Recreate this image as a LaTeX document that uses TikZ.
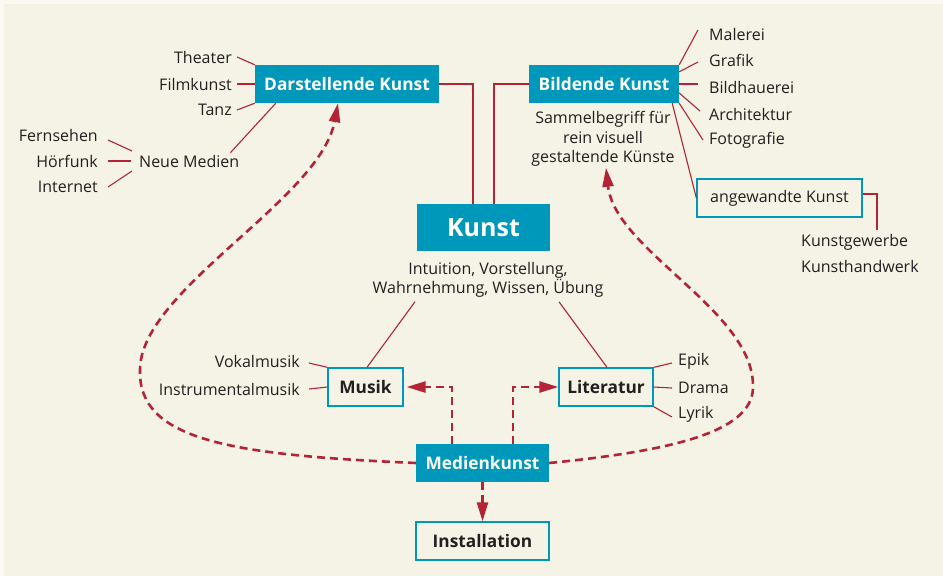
\documentclass[tikz,border=0pt]{standalone}
\usepackage{fontspec}
\setmainfont{Open Sans}
\usetikzlibrary{arrows.meta,calc}
\definecolor{teal}{RGB}{0,152,186}
\definecolor{rd}{RGB}{178,36,54}
\definecolor{bg}{RGB}{245,243,229}
\definecolor{bgo}{RGB}{251,249,242}
\definecolor{txt}{RGB}{35,31,32}
\tikzset{
  fbox/.style={fill=teal,text=white,font=\fontsize{17.3}{20}\selectfont\bfseries,inner sep=0pt,minimum height=38pt},
  obox/.style={draw=teal,line width=1.3pt,fill=bg,text=txt,font=\fontsize{17.3}{20}\selectfont\bfseries,inner sep=0pt,minimum height=38pt},
  lbl/.style={text=txt,font=\fontsize{16}{19.5}\selectfont,inner sep=0pt},
  ln/.style={draw=rd,line width=1.1pt},
  dsh/.style={draw=rd,line width=2.6pt,dash pattern=on 8pt off 5pt},
  arr/.style={-{Triangle[length=19pt,width=11pt]}}
}
\begin{document}
\begin{tikzpicture}[x=1pt,y=-1pt]
\useasboundingbox (0,0) rectangle (943,576);
\fill[bgo] (0,0) rectangle (943,576);
\fill[bg] (4,4) rectangle (943,576);
% boxes
\node[fbox,minimum width=184pt] (dk) at (347,84) {Darstellende Kunst};
\node[fbox,minimum width=150pt] (bk) at (604,84) {Bildende Kunst};
\node[fbox,minimum width=133pt,minimum height=47pt,font=\fontsize{25}{30}\selectfont\bfseries] (kunst) at (483.5,227.5) {Kunst};
\node[fbox,minimum width=133pt] (mk) at (482.5,463) {Medienkunst};
\node[obox,minimum width=133pt] (inst) at (482.5,541) {Installation};
\node[obox,minimum width=75pt] (musik) at (365.5,387) {Musik};
\node[obox,minimum width=94pt] (lit) at (606,387) {Literatur};
\node[obox,minimum width=165pt,font=\fontsize{16}{18}\selectfont] (ang) at (779.5,198) {angewandte Kunst};
% labels
\node[lbl,anchor=east] (theater) at (232,57) {Theater};
\node[lbl,anchor=east] (film) at (232,84) {Filmkunst};
\node[lbl,anchor=east] (tanz) at (232,110) {Tanz};
\node[lbl,anchor=west] (nm) at (139,161) {Neue Medien};
\node[lbl,anchor=east] (fern) at (98,135) {Fernsehen};
\node[lbl,anchor=east] (horf) at (98,161) {Hörfunk};
\node[lbl,anchor=east] (inet) at (98,187) {Internet};
\node[lbl,anchor=west] (malerei) at (709,34) {Malerei};
\node[lbl,anchor=west] (grafik) at (709,60) {Grafik};
\node[lbl,anchor=west] (bild) at (709,87) {Bildhauerei};
\node[lbl,anchor=west] (arch) at (709,114) {Architektur};
\node[lbl,anchor=west] (foto) at (709,140) {Fotografie};
\node[lbl,anchor=west] (kg) at (801,242) {Kunstgewerbe};
\node[lbl,anchor=west] (kh) at (801,266) {Kunsthandwerk};
\node[lbl,align=center,font=\fontsize{16}{19.5}\selectfont] (sammel) at (603,139) {Sammelbegriff für\\rein visuell\\gestaltende Künste};
\node[lbl,align=center,font=\fontsize{16}{18}\selectfont] (intu) at (488,280) {Intuition, Vorstellung,\\Wahrnehmung, Wissen, Übung};
\node[lbl,anchor=east] (vok) at (300,361) {Vokalmusik};
\node[lbl,anchor=east] (instr) at (300,389) {Instrumentalmusik};
\node[lbl,anchor=west] (epik) at (678,361) {Epik};
\node[lbl,anchor=west] (drama) at (678,388) {Drama};
\node[lbl,anchor=west] (lyrik) at (678,414) {Lyrik};
\coordinate (kgtop) at (877,230);
% thin connectors
\draw[ln] ([xshift=-10.5pt]kunst.north) |- (dk.east);
\draw[ln] ([xshift=10.5pt]kunst.north) |- (bk.west);
\draw[ln] ([xshift=5pt]theater.east) -- (dk.north west);
\draw[ln] ([xshift=5pt]film.east) -- (dk.west);
\draw[ln] ([xshift=5pt]tanz.east) -- (dk.south west);
\draw[ln] ([xshift=-9pt,yshift=2pt]nm.north east) -- ($(dk.south west)+(21,0)$);
\draw[ln] ([xshift=10pt,yshift=-5pt]fern.east) -- ([xshift=-7pt,yshift=10pt]nm.west);
\draw[ln] ([xshift=10pt]horf.east) -- ([xshift=-8pt]nm.west);
\draw[ln] ([xshift=10pt]inet.east) -- ([xshift=-7pt,yshift=-10pt]nm.west);
\draw[ln] (bk.north east) -- ([xshift=-11pt,yshift=4pt]malerei.west);
\draw[ln] ([yshift=-7pt]bk.north east) -- ([xshift=-11pt,yshift=-2pt]grafik.west);
\draw[ln] (bk.east) -- ([xshift=-11pt,yshift=3pt]bild.west);
\draw[ln] ([yshift=-9pt]bk.east) -- ([xshift=-9pt,yshift=3pt]arch.west);
\draw[ln] (bk.south east) -- ([xshift=-6pt]foto.west);
\draw[ln] ([xshift=-7pt]bk.south east) -- (ang.west);
\draw[ln] ([yshift=4pt]ang.east) -| (kgtop);
\draw[ln] ($(intu.south)+(-73,4)$) -- ([xshift=1.5pt]musik.north);
\draw[ln] ($(intu.south)+(71,4)$) -- ([xshift=1pt]lit.north);
\draw[ln] ([xshift=9pt,yshift=-2pt]vok.east) -- (musik.north west);
\draw[ln] ([xshift=9pt]instr.east) -- (musik.west);
\draw[ln] (lit.north east) -- ([xshift=-6pt,yshift=-2pt]epik.west);
\draw[ln] (lit.east) -- ([xshift=-6pt]drama.west);
\draw[ln] (lit.south east) -- ([xshift=-6pt,yshift=-3pt]lyrik.west);
% dashed arrows
\draw[dsh,arr,shorten >=3pt] ([xshift=-30.5pt]mk.north) |- (musik.east);
\draw[dsh,arr] ([xshift=30.5pt]mk.north) |- (lit.west);
\draw[dsh,arr] (mk.south) -- (inst.north);
\draw[dsh,arr] (mk.west) .. controls (230,455) and (138,440) .. (140,370)
  .. controls (140,290) and (320,200) .. ($(dk.south)+(-9,0)$);
\draw[dsh,arr] (mk.east) .. controls (680,450) and (755,430) .. (753,385)
  .. controls (752,310) and (615,250) .. ([xshift=3pt,yshift=-1pt]sammel.south);
\end{tikzpicture}
\end{document}
